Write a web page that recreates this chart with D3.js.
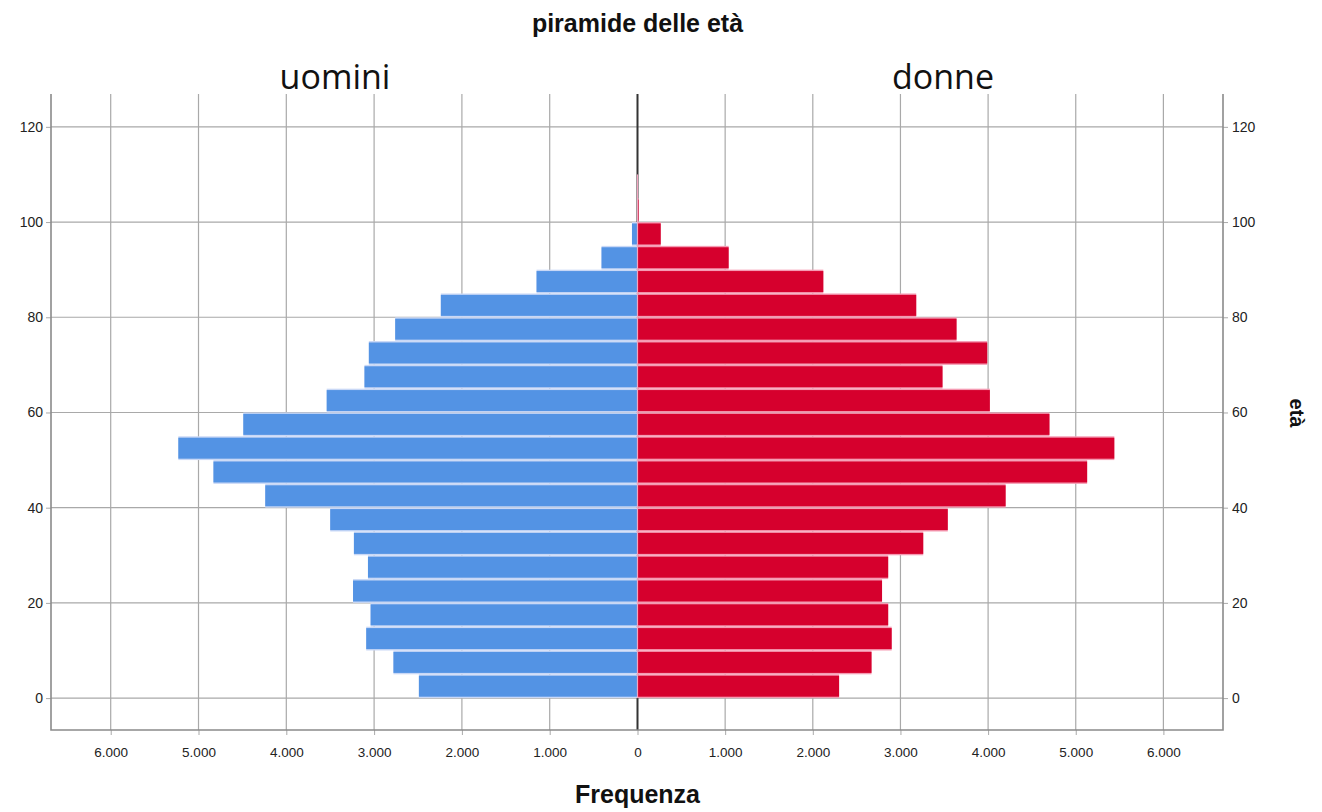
<!DOCTYPE html>
<html><head><meta charset="utf-8">
<script src="https://cdn.jsdelivr.net/npm/d3@7/dist/d3.min.js"></script>
<style>
html,body{margin:0;padding:0;background:#fff;}
svg{display:block;font-family:Arial,"Liberation Sans",sans-serif;}
</style></head>
<body>
<svg id="chart" width="1322" height="812"></svg>
<script>
// ---- data ----
const ageStart = [0,5,10,15,20,25,30,35,40,45,50,55,60,65,70,75,80,85,90,95,100,105];
const menCounts = [2490,2780,3090,3040,3240,3070,3230,3500,4240,4830,5230,4490,3540,3110,3060,2760,2240,1150,410,63,4,1];
const womenCounts = [2300,2670,2900,2860,2790,2860,3260,3540,4200,5130,5440,4700,4020,3480,3990,3640,3180,2120,1040,265,12,3];
const ageTicks = [0,20,40,60,80,100,120];
const freqTicks = [0,1000,2000,3000,4000,5000,6000];
const binWidth = 5;
const titleText = "piramide delle età";
const leftLabel = "uomini";
const rightLabel = "donne";
const xTitle = "Frequenza";
const yTitle = "età";

// ---- layout ----
const L = 51, R = 1223, C = 637.5, T = 94, B = 730;
const svg = d3.select("#chart");
const fmt = d3.formatLocale({decimal:",", thousands:".", grouping:[3], currency:["€",""]}).format(",d");

const y = d3.scaleLinear().domain([-6.7, 126.9]).range([B, T]);
const xM = d3.scaleLinear().domain([0, 6680]).range([C, L]);
const xW = d3.scaleLinear().domain([0, 6680]).range([C, R]);

const gridColor = "#a9a9a9";
const font = "Arial, 'Liberation Sans', sans-serif";

// horizontal grid + left/right axes
const gy = svg.append("g").attr("transform", `translate(${L},0)`)
  .call(d3.axisLeft(y).tickValues(ageTicks).tickSize(5).tickPadding(3));
gy.select(".domain").remove();
gy.selectAll("line").attr("stroke", gridColor);
gy.selectAll("text").attr("font-size", 14).attr("fill", "#222").attr("font-family", font);

svg.append("g").selectAll("line").data(ageTicks).join("line")
  .attr("x1", L).attr("x2", R).attr("y1", d => y(d)).attr("y2", d => y(d))
  .attr("stroke", gridColor).attr("stroke-width", 1.2);

const gyr = svg.append("g").attr("transform", `translate(${R},0)`)
  .call(d3.axisRight(y).tickValues(ageTicks).tickSize(5).tickPadding(4));
gyr.select(".domain").remove();
gyr.selectAll("line").attr("stroke", gridColor);
gyr.selectAll("text").attr("font-size", 14).attr("fill", "#222").attr("font-family", font);

// vertical grid + bottom axes
function bottomAxis(scale, ticks) {
  const g = svg.append("g").attr("transform", `translate(0,${B})`)
    .call(d3.axisBottom(scale).tickValues(ticks).tickSize(5).tickPadding(12).tickFormat(fmt));
  g.select(".domain").remove();
  g.selectAll("line").attr("stroke", gridColor);
  g.selectAll("text").attr("font-size", 13.5).attr("fill", "#222").attr("font-family", font);
  svg.append("g").selectAll("line").data(ticks.filter(d => d > 0)).join("line")
    .attr("x1", d => scale(d)).attr("x2", d => scale(d)).attr("y1", T).attr("y2", B)
    .attr("stroke", gridColor).attr("stroke-width", 1.2);
}
bottomAxis(xM, freqTicks);
bottomAxis(xW, freqTicks.filter(d => d > 0));

// center line
svg.append("line").attr("x1", C).attr("x2", C).attr("y1", T).attr("y2", B)
  .attr("stroke", "#333").attr("stroke-width", 2);

// bars: light underlay (gives the pale separators) + inset coloured bar
const gap = 1.4;
const bars = svg.append("g");
function drawSide(cls, scale, counts, fill, edge) {
  const rowX = (d,i) => Math.min(scale(0), scale(counts[i]));
  const rowW = (d,i) => Math.abs(scale(counts[i]) - scale(0));
  bars.selectAll("rect." + cls + "u").data(ageStart).join("rect").attr("class", cls + "u")
    .attr("x", rowX).attr("width", rowW)
    .attr("y", d => y(d + binWidth)).attr("height", d => y(d) - y(d + binWidth))
    .attr("fill", edge);
  bars.selectAll("rect." + cls).data(ageStart).join("rect").attr("class", cls)
    .attr("x", rowX).attr("width", rowW)
    .attr("y", d => y(d + binWidth) + gap).attr("height", d => y(d) - y(d + binWidth) - 2 * gap)
    .attr("fill", fill);
}
drawSide("m", xM, menCounts, "#5393e4", "#c9d8f6");
drawSide("w", xW, womenCounts, "#d6002d", "#f59bb3");
// pale seam between the two halves
svg.append("line").attr("x1", C).attr("x2", C)
  .attr("y1", y(ageStart[ageStart.length - 1] + binWidth)).attr("y2", y(0))
  .attr("stroke", "#f2a6c0").attr("stroke-width", 1.2);

// frame
svg.append("path")
  .attr("d", `M${L},${T}V${B}H${R}V${T}`)
  .attr("fill", "none").attr("stroke", "#8a8a8a").attr("stroke-width", 1.6);

// texts
svg.append("text").attr("x", C).attr("y", 32).attr("text-anchor", "middle")
  .attr("font-size", 25).attr("font-weight", "bold").attr("fill", "#111").text(titleText);
svg.append("text").attr("x", 335).attr("y", 89).attr("text-anchor", "middle")
  .attr("font-family", "'Open Sans', sans-serif").attr("font-size", 34).attr("fill", "#111").text(leftLabel);
svg.append("text").attr("x", 943).attr("y", 89).attr("text-anchor", "middle")
  .attr("font-family", "'Open Sans', sans-serif").attr("font-size", 34).attr("fill", "#111").text(rightLabel);
svg.append("text").attr("x", C).attr("y", 803).attr("text-anchor", "middle")
  .attr("font-size", 25).attr("font-weight", "bold").attr("fill", "#111").text(xTitle);
svg.append("text").attr("transform", "translate(1290,413) rotate(90)").attr("text-anchor", "middle")
  .attr("font-size", 20).attr("font-weight", "bold").attr("fill", "#111").text(yTitle);
</script>
</body></html>
